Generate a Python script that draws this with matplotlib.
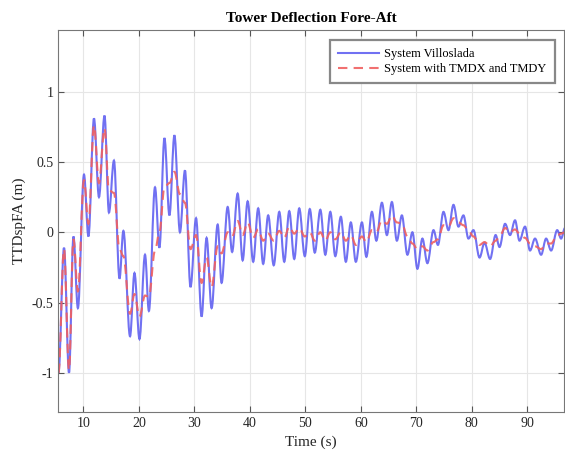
import matplotlib
matplotlib.use("Agg")
import matplotlib.pyplot as plt
from matplotlib.path import Path
from matplotlib.patches import PathPatch

# extrema (time in s, deflection in m)
time_s = [5.5, 6.5, 7.4, 8.2, 9.0, 10.1, 10.9, 11.9, 12.8, 13.8,
          14.6, 15.5, 16.5, 17.2, 18.4, 19.2, 20.1, 21.1, 21.8, 22.9,
          23.7, 24.6, 25.5, 26.4, 27.4, 28.3, 29.3, 30.3, 31.3, 32.2,
          33.1, 34.2, 34.9, 36.0, 36.8, 37.8, 38.7, 39.6, 40.6, 41.5,
          42.4, 43.3, 44.3, 45.3, 46.2, 47.1, 48.0, 48.9, 49.9, 50.8,
          51.7, 52.7, 53.6, 54.5, 55.4, 56.4, 57.3, 58.2, 59.1, 60.2,
          61.0, 62.0, 62.8, 63.8, 64.7, 65.6, 66.5, 67.4, 68.4, 69.3,
          70.2, 71.1, 72.0, 73.1, 73.9, 74.9, 75.8, 76.7, 77.6, 78.5,
          79.4, 80.3, 81.4, 82.3, 83.3, 84.3, 85.0, 86.0, 86.9, 87.8,
          88.6, 89.6, 90.5, 91.4, 92.5, 93.4, 94.3, 95.4, 96.1, 96.8]

villoslada = [-1.00, -0.11, -1.00, -0.03, -0.54, 0.41, -0.03, 0.81, 0.25, 0.83,
              0.14, 0.51, -0.33, 0.01, -0.74, -0.29, -0.76, -0.16, -0.56, 0.32,
              -0.11, 0.67, 0.12, 0.69, 0.00, 0.44, -0.39, 0.10, -0.60, -0.04,
              -0.54, 0.055, -0.36, 0.18, -0.14, 0.275, -0.20, 0.22, -0.21, 0.17,
              -0.225, 0.12, -0.235, 0.145, -0.21, 0.15, -0.19, 0.17, -0.17, 0.165,
              -0.145, 0.16, -0.16, 0.145, -0.17, 0.11, -0.21, 0.07, -0.21, 0.07,
              -0.175, 0.145, -0.06, 0.21, -0.02, 0.215, -0.06, 0.12, -0.16, 0.00,
              -0.26, -0.045, -0.22, 0.015, -0.09, 0.145, 0.015, 0.195, 0.04, 0.12,
              -0.045, 0.015, -0.18, -0.075, -0.19, -0.02, -0.105, 0.06, -0.02, 0.085,
              -0.06, 0.04, -0.13, -0.045, -0.16, -0.045, -0.13, 0.015, -0.045, 0.03]

with_tmd = [-1.00, -0.12, -0.98, -0.05, -0.42, 0.37, 0.06, 0.76, 0.35, 0.74,
            0.30, 0.28, -0.12, -0.17, -0.58, -0.44, -0.60, -0.45, -0.46, -0.13,
            0.00, 0.32, 0.35, 0.43, 0.27, 0.21, -0.12, -0.02, -0.36, -0.18,
            -0.39, -0.10, -0.15, 0.00, -0.03, 0.08, -0.02, 0.07, -0.04, 0.02,
            -0.06, -0.01, -0.06, 0.01, -0.04, 0.04, -0.01, 0.03, -0.03, 0.00,
            -0.06, 0.00, -0.06, 0.00, -0.05, 0.00, -0.06, -0.02, -0.09, -0.03,
            -0.07, 0.015, 0.00, 0.085, 0.06, 0.12, 0.07, 0.06, -0.03, -0.08,
            -0.12, -0.10, -0.13, -0.07, -0.05, 0.05, 0.04, 0.10, 0.07, 0.05,
            0.01, -0.03, -0.09, -0.07, -0.10, -0.06, -0.03, 0.03, 0.00, 0.02,
            -0.01, -0.04, -0.08, -0.10, -0.12, -0.08, -0.08, -0.02, -0.01, 0.00]

x_ticks = [10, 20, 30, 40, 50, 60, 70, 80, 90]
y_ticks = [-1, -0.5, 0, 0.5, 1]
y_tick_labels = ["-1", "-0.5", "0", "0.5", "1"]


def wave_path(ts, vs, k=0.36):
    # cubic segments with flat tangents at each extremum, like the sampled sine
    verts = [(ts[0], vs[0])]
    codes = [Path.MOVETO]
    for t0, v0, t1, v1 in zip(ts, vs, ts[1:], vs[1:]):
        dt = t1 - t0
        verts += [(t0 + k * dt, v0), (t1 - k * dt, v1), (t1, v1)]
        codes += [Path.CURVE4] * 3
    return Path(verts, codes)


plt.rcParams["font.family"] = ["Liberation Serif", "DejaVu Serif"]
plt.rcParams["axes.unicode_minus"] = False

fig = plt.figure(figsize=(5.65, 4.59), dpi=100)
ax = fig.add_axes([0.103, 0.102, 0.895, 0.833])

blue = dict(color="#5858f0", lw=1.5, alpha=0.85)
red = dict(color="#f06060", lw=1.5, alpha=0.9, ls=(0, (4.5, 3)))

ax.add_patch(PathPatch(wave_path(time_s, villoslada), fill=False,
                       edgecolor=blue["color"], lw=blue["lw"], alpha=blue["alpha"]))
ax.add_patch(PathPatch(wave_path(time_s, with_tmd), fill=False,
                       edgecolor=red["color"], lw=red["lw"], alpha=red["alpha"],
                       linestyle=red["ls"]))
# legend handles
ax.plot([], [], label="System Villoslada", **blue)
ax.plot([], [], label="System with TMDX and TMDY", **red)

ax.set_xlim(5.45, 96.6)
ax.set_ylim(-1.28, 1.44)
ax.set_xticks(x_ticks)
ax.set_yticks(y_ticks)
ax.set_yticklabels(y_tick_labels)
ax.grid(True, color="#e6e6e6", lw=0.8)
ax.set_axisbelow(True)
ax.tick_params(direction="in", top=True, right=True, labelsize=10, color="#555555",
               labelcolor="#262626", length=4)
for s in ax.spines.values():
    s.set_color("#777777")

ax.set_xlabel("Time (s)", fontsize=11, color="#262626")
ax.set_ylabel("TTDspFA (m)", fontsize=11, color="#262626")
ax.set_title("Tower Deflection Fore-Aft", fontsize=11, fontweight="bold", pad=6)

leg = ax.legend(loc="upper right", fontsize=9, fancybox=False, framealpha=1,
                bbox_to_anchor=(0.982, 0.974), borderaxespad=0.0,
                handlelength=3.3, handletextpad=0.4, borderpad=0.65,
                labelspacing=0.25)
leg.get_frame().set_edgecolor("#888888")
leg.get_frame().set_linewidth(1.6)

fig.savefig("out.png", dpi=100)
